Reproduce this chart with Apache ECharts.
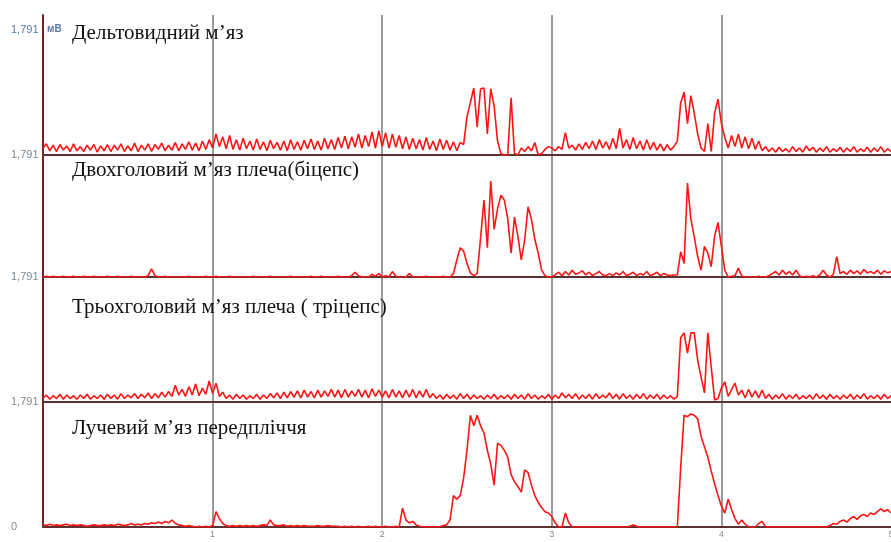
<!DOCTYPE html>
<html><head><meta charset="utf-8">
<script src="https://cdn.jsdelivr.net/npm/echarts@6/dist/echarts.min.js"></script>
<style>html,body{margin:0;padding:0;background:#fff}#c{width:891px;height:542px}</style>
</head><body><div id="c"></div>
<script>
// sampling step of the recorded traces, seconds
const sampleStep = 0.02;
const xTickLabels = ['1', '2', '3', '4', '5'];
const yTopLabel = '1,791';
const yBottomLabel = '0';
const unitLabel = 'мВ';
const panelTitles = ['Дельтовидний м’яз', 'Двохголовий м’яз плеча(біцепс)', 'Трьохголовий м’яз плеча ( тріцепс)', 'Лучевий м’яз передпліччя'];

const deltoid = [
0.10,0.16,0.06,0.14,0.05,0.15,0.07,0.13,0.05,0.16,
0.06,0.12,0.05,0.14,0.07,0.15,0.04,0.13,0.06,0.15,
0.05,0.14,0.07,0.16,0.05,0.13,0.06,0.17,0.05,0.14,
0.07,0.16,0.05,0.15,0.08,0.17,0.06,0.14,0.07,0.18,
0.06,0.16,0.08,0.19,0.07,0.17,0.06,0.20,0.08,0.22,
0.10,0.30,0.12,0.26,0.09,0.28,0.08,0.22,0.07,0.24,
0.09,0.20,0.07,0.23,0.08,0.19,0.06,0.21,0.09,0.18,
0.07,0.20,0.06,0.22,0.08,0.19,0.07,0.21,0.09,0.23,
0.08,0.20,0.07,0.24,0.09,0.22,0.08,0.25,0.10,0.27,
0.09,0.26,0.11,0.30,0.10,0.28,0.12,0.33,0.10,0.35,
0.12,0.32,0.10,0.30,0.11,0.28,0.09,0.26,0.08,0.24,
0.09,0.22,0.07,0.25,0.08,0.20,0.06,0.23,0.08,0.21,
0.07,0.19,0.06,0.18,0.15,0.55,0.75,0.96,0.40,0.95,
0.96,0.30,0.95,0.70,0.20,0.02,0.00,0.00,0.82,0.02,
0.00,0.10,0.05,0.12,0.06,0.18,0.00,0.02,0.08,0.12,
0.10,0.06,0.12,0.08,0.32,0.10,0.14,0.07,0.16,0.08,
0.18,0.09,0.20,0.08,0.22,0.10,0.19,0.08,0.24,0.09,
0.38,0.10,0.22,0.08,0.25,0.09,0.20,0.07,0.22,0.08,
0.18,0.07,0.16,0.06,0.15,0.07,0.12,0.20,0.75,0.90,
0.45,0.85,0.60,0.30,0.10,0.05,0.45,0.05,0.60,0.80,
0.45,0.25,0.10,0.28,0.12,0.30,0.10,0.26,0.09,0.24,
0.08,0.20,0.06,0.12,0.05,0.10,0.04,0.11,0.05,0.09,
0.04,0.12,0.05,0.10,0.04,0.13,0.06,0.11,0.04,0.10,
0.05,0.12,0.04,0.09,0.05,0.11,0.04,0.10,0.05,0.12,
0.04,0.09,0.05,0.11,0.04,0.10,0.05,0.12,0.04,0.09,
0.05];

const biceps = [
0.00,0.01,0.00,0.01,0.00,0.00,0.01,0.00,0.00,0.01,
0.00,0.00,0.01,0.00,0.00,0.01,0.00,0.00,0.00,0.01,
0.00,0.00,0.01,0.00,0.00,0.00,0.01,0.00,0.00,0.00,
0.00,0.02,0.12,0.02,0.00,0.00,0.01,0.00,0.00,0.00,
0.00,0.00,0.00,0.01,0.00,0.00,0.00,0.00,0.01,0.00,
0.00,0.01,0.00,0.00,0.00,0.01,0.00,0.00,0.00,0.00,
0.00,0.00,0.01,0.00,0.00,0.00,0.00,0.01,0.00,0.00,
0.00,0.00,0.00,0.01,0.00,0.00,0.00,0.00,0.00,0.01,
0.00,0.00,0.01,0.00,0.00,0.00,0.00,0.01,0.00,0.00,
0.00,0.02,0.07,0.02,0.00,0.00,0.00,0.04,0.01,0.05,
0.00,0.02,0.00,0.08,0.01,0.00,0.00,0.00,0.05,0.00,
0.00,0.00,0.00,0.01,0.00,0.00,0.00,0.00,0.01,0.00,
0.00,0.05,0.25,0.43,0.38,0.20,0.06,0.02,0.05,0.57,
1.13,0.43,1.41,0.70,1.00,1.20,1.13,0.86,0.35,0.88,
0.60,0.25,0.54,1.03,0.85,0.55,0.35,0.10,0.02,0.00,
0.00,0.03,0.07,0.02,0.08,0.03,0.10,0.04,0.06,0.09,
0.03,0.07,0.02,0.05,0.08,0.03,0.02,0.05,0.02,0.06,
0.03,0.08,0.02,0.04,0.07,0.02,0.05,0.03,0.08,0.02,
0.04,0.07,0.02,0.05,0.03,0.02,0.03,0.03,0.37,0.20,
1.38,0.85,0.59,0.30,0.10,0.45,0.35,0.15,0.60,0.80,
0.45,0.10,0.00,0.01,0.02,0.13,0.01,0.00,0.00,0.00,
0.00,0.01,0.00,0.00,0.02,0.05,0.08,0.03,0.10,0.04,
0.08,0.03,0.10,0.02,0.00,0.01,0.00,0.02,0.00,0.03,
0.10,0.03,0.00,0.04,0.30,0.05,0.08,0.04,0.10,0.05,
0.09,0.04,0.11,0.06,0.08,0.05,0.10,0.04,0.09,0.06,
0.08];

const triceps = [
0.05,0.10,0.04,0.09,0.05,0.11,0.04,0.10,0.05,0.09,
0.04,0.10,0.05,0.11,0.04,0.09,0.05,0.10,0.04,0.11,
0.05,0.10,0.04,0.12,0.05,0.10,0.06,0.12,0.05,0.11,
0.06,0.13,0.05,0.12,0.06,0.14,0.07,0.15,0.08,0.24,
0.10,0.18,0.08,0.22,0.10,0.26,0.09,0.20,0.11,0.30,
0.12,0.27,0.08,0.14,0.05,0.10,0.04,0.11,0.05,0.10,
0.04,0.09,0.05,0.11,0.04,0.10,0.05,0.12,0.06,0.13,
0.05,0.14,0.06,0.15,0.07,0.16,0.06,0.17,0.07,0.15,
0.06,0.17,0.07,0.16,0.08,0.18,0.07,0.17,0.06,0.18,
0.07,0.16,0.08,0.18,0.07,0.17,0.06,0.19,0.08,0.17,
0.07,0.16,0.06,0.18,0.07,0.16,0.06,0.17,0.07,0.18,
0.06,0.16,0.07,0.18,0.06,0.12,0.05,0.10,0.04,0.11,
0.05,0.10,0.04,0.12,0.05,0.11,0.04,0.10,0.05,0.09,
0.04,0.10,0.05,0.11,0.04,0.09,0.05,0.10,0.04,0.11,
0.05,0.10,0.04,0.12,0.05,0.10,0.04,0.09,0.05,0.11,
0.04,0.10,0.05,0.13,0.06,0.11,0.05,0.12,0.04,0.10,
0.05,0.11,0.04,0.12,0.05,0.10,0.06,0.13,0.05,0.11,
0.04,0.12,0.05,0.10,0.04,0.11,0.05,0.12,0.04,0.10,
0.05,0.11,0.04,0.10,0.05,0.09,0.04,0.08,0.92,0.99,
0.70,0.99,0.99,0.60,0.36,0.13,0.99,0.50,0.03,0.05,
0.20,0.29,0.08,0.18,0.27,0.10,0.17,0.06,0.18,0.07,
0.16,0.06,0.17,0.05,0.11,0.04,0.10,0.05,0.12,0.04,
0.10,0.05,0.11,0.04,0.09,0.05,0.10,0.04,0.12,0.05,
0.10,0.04,0.11,0.05,0.09,0.04,0.10,0.05,0.11,0.04,
0.10,0.05,0.12,0.04,0.09,0.05,0.10,0.04,0.11,0.05,
0.09];

const radialis = [
0.03,0.02,0.04,0.02,0.03,0.02,0.03,0.04,0.02,0.03,
0.02,0.03,0.02,0.01,0.02,0.03,0.02,0.02,0.03,0.02,
0.03,0.02,0.04,0.03,0.02,0.03,0.05,0.03,0.04,0.03,
0.05,0.04,0.06,0.05,0.07,0.05,0.08,0.06,0.10,0.05,
0.03,0.02,0.01,0.02,0.01,0.00,0.01,0.00,0.01,0.00,
0.02,0.22,0.12,0.05,0.02,0.01,0.02,0.01,0.02,0.01,
0.02,0.01,0.02,0.01,0.02,0.03,0.02,0.10,0.03,0.02,
0.02,0.03,0.01,0.02,0.01,0.02,0.01,0.02,0.01,0.01,
0.01,0.02,0.01,0.01,0.02,0.01,0.01,0.01,0.00,0.01,
0.00,0.01,0.00,0.01,0.00,0.00,0.01,0.00,0.01,0.00,
0.00,0.01,0.00,0.00,0.01,0.00,0.27,0.10,0.06,0.08,
0.03,0.01,0.00,0.00,0.00,0.00,0.00,0.00,0.02,0.03,
0.10,0.45,0.40,0.45,0.70,1.10,1.60,1.45,1.60,1.45,
1.35,1.10,0.90,0.60,1.20,1.17,1.10,1.00,0.75,0.65,
0.58,0.50,0.82,0.78,0.60,0.45,0.35,0.28,0.22,0.20,
0.15,0.06,0.00,0.00,0.20,0.06,0.00,0.00,0.00,0.00,
0.00,0.00,0.00,0.00,0.00,0.00,0.00,0.00,0.00,0.00,
0.00,0.00,0.00,0.01,0.03,0.01,0.00,0.00,0.00,0.00,
0.00,0.00,0.00,0.00,0.00,0.00,0.00,0.00,0.85,1.60,
1.58,1.62,1.60,1.55,1.30,1.15,1.00,0.80,0.62,0.45,
0.30,0.20,0.40,0.25,0.12,0.04,0.10,0.04,0.00,0.00,
0.00,0.05,0.08,0.00,0.00,0.00,0.00,0.00,0.00,0.00,
0.00,0.00,0.00,0.00,0.00,0.00,0.00,0.00,0.00,0.00,
0.00,0.00,0.02,0.05,0.04,0.08,0.10,0.07,0.12,0.15,
0.11,0.16,0.18,0.15,0.20,0.18,0.22,0.26,0.22,0.25,
0.20];

const traces = [deltoid, biceps, triceps, radialis];
const yFull = 1.791;

const chart = echarts.init(document.getElementById('c'), null, {renderer: 'canvas'});
const grids = [
  {left: 43, right: 0, top: 15, height: 140},
  {left: 43, right: 0, top: 155, height: 122},
  {left: 43, right: 0, top: 277, height: 125},
  {left: 43, right: 0, top: 402, height: 125}
].map(g => Object.assign(g, {containLabel: false, outerBoundsMode: 'none'}));
const yMaxes = [yFull * 140 / 125, yFull, yFull, yFull];

const xAxes = grids.map((g, k) => ({
  type: 'value', gridIndex: k, min: 0, max: 5, interval: 1,
  axisLine: {show: true, onZero: false, lineStyle: {color: '#5a3232', width: 2}},
  axisTick: {show: false},
  axisLabel: {show: k === 3, showMinLabel: false, fontSize: 9, color: '#8a8a8a', margin: 3,
    fontFamily: 'Liberation Sans', formatter: v => xTickLabels[Math.round(v) - 1] || ''},
  splitLine: {show: true, showMinLine: false, showMaxLine: false, lineStyle: {color: '#9a9a9a', width: 2}}
}));
const yAxes = grids.map((g, k) => ({
  type: 'value', gridIndex: k, min: 0, max: yMaxes[k],
  axisLine: {show: true, lineStyle: {color: '#7a1e1e', width: 2}},
  axisTick: {show: false},
  splitLine: {show: false},
  axisLabel: {
    customValues: k === 3 ? [0, yFull] : [yFull],
    formatter: v => v === 0 ? yBottomLabel : yTopLabel,
    align: 'left', margin: 32, padding: k === 0 ? 0 : [4, 0, 0, 0],
    fontSize: 11, color: k === 0 ? '#5a78a8' : '#7f8890', fontFamily: 'Liberation Sans'
  }
}));
const series = traces.map((arr, k) => ({
  type: 'line', xAxisIndex: k, yAxisIndex: k,
  data: arr.map((v, i) => [i * sampleStep, v]),
  showSymbol: false, symbol: 'none',
  lineStyle: {color: '#ff1414', width: 1.6},
  animation: false
}));
const titleTops = [23, 160, 297, 418];
const titles = panelTitles.map((t, k) => ({
  text: t, left: 72, top: titleTops[k], padding: 0,
  textStyle: {fontFamily: 'Liberation Serif', fontSize: 21, fontWeight: 'normal', color: '#111'}
}));

chart.setOption({
  animation: false,
  backgroundColor: '#fff',
  title: titles,
  grid: grids,
  xAxis: xAxes,
  yAxis: yAxes,
  series: series,
  graphic: [{type: 'text', left: 47, top: 24, style: {text: unitLabel, fontSize: 10, fontWeight: 'bold', fill: '#5a78a8', fontFamily: 'Liberation Sans'}}]
});
</script>
</body></html>
